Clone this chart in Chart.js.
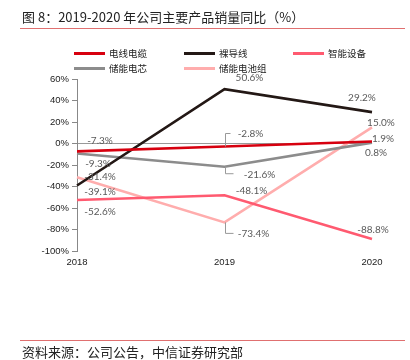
<!DOCTYPE html>
<html><head><meta charset="utf-8">
<script src="https://cdn.jsdelivr.net/npm/chart.js@4"></script>
<style>
html,body{margin:0;padding:0;background:#fff;width:410px;height:360px;overflow:hidden;}
#wrap{position:relative;width:410px;height:360px;}
canvas{position:absolute;left:0;top:0;}
.title{position:absolute;left:22px;top:7px;font:13px "Noto Sans CJK SC",sans-serif;color:#222;white-space:nowrap;}
.src{position:absolute;left:22px;top:342px;font:13px "Noto Sans CJK SC",sans-serif;color:#222;white-space:nowrap;}
.rule{position:absolute;left:20px;width:385px;height:1px;background:#e07070;}
.lg{position:absolute;font:9.5px "Noto Sans CJK SC",sans-serif;color:#222;white-space:nowrap;display:flex;align-items:center;}
.lg i{display:inline-block;width:31px;height:3px;margin-right:4px;}
</style></head>
<body><div id="wrap">
<canvas id="c" width="410" height="360"></canvas>
<div class="title">图 8：2019-2020 年公司主要产品销量同比（%）</div>
<div class="rule" style="top:28px"></div>
<div class="rule" style="top:340px"></div>
<div class="src">资料来源：公司公告，中信证券研究部</div>
<div id="legend"></div>
</div>
<script>
const categories = ['2018','2019','2020'];
const seriesNames = ['电线电缆','裸导线','智能设备','储能电芯','储能电池组'];
const cable   = [-7.3, -2.8, 1.9];
const bareWire = [-39.1, 50.6, 29.2];
const smartDevice = [-52.6, -48.1, -88.8];
const cell    = [-9.3, -21.6, 0.8];
const pack    = [-31.4, -73.4, 15.0];
const yTicks = [60, 40, 20, 0, -20, -40, -60, -80, -100];

const colors = ['#d7000f','#231815','#ff5a70','#8c8c8c','#ffadad'];
const seriesData = [cable, bareWire, smartDevice, cell, pack];
// label offsets [dx,dy] and leader flags (style only)
const labelOffsets = [
  [[23,-11],[26,-13],[11,-3]],
  [[23,6],[25,-11],[-10,-14]],
  [[23,12],[27,-4],[1,-9]],
  [[21,10],[35,8],[4,10]],
  [[23,0],[29,11],[9,-5]]
];
const leaders = {'0-1':[-13,5],'3-1':[7,8],'4-1':[11,8]};

// legend
const legPos = [[74,46],[184,46],[293,46],[74,61]];
legPos.push([184,61]);
const lg = document.getElementById('legend');
seriesNames.forEach((n,i)=>{
  const d=document.createElement('div');d.className='lg';
  d.style.left=legPos[i][0]+'px';d.style.top=legPos[i][1]+'px';
  d.innerHTML='<i style="background:'+colors[i]+'"></i>'+n;
  lg.appendChild(d);
});

const labelPlugin = {
  id:'vlabels',
  afterDatasetsDraw(chart){
    const ctx=chart.ctx;
    ctx.save();
    ctx.font='10px Lato, "Liberation Sans", sans-serif';
    ctx.fillStyle='#595959';
    ctx.textAlign='center';ctx.textBaseline='middle';
    chart.data.datasets.forEach((ds,di)=>{
      const meta=chart.getDatasetMeta(di);
      meta.data.forEach((pt,i)=>{
        const o=labelOffsets[di][i];
        const key=di+'-'+i;
        if(leaders[key]){
          const [ly,hx]=leaders[key];
          ctx.strokeStyle='#999';ctx.lineWidth=1;
          ctx.beginPath();
          ctx.moveTo(Math.round(pt.x)+0.5,pt.y);
          ctx.lineTo(Math.round(pt.x)+0.5,pt.y+ly);
          ctx.lineTo(Math.round(pt.x)+0.5+hx,pt.y+ly);
          ctx.stroke();
        }
        ctx.fillText(ds.data[i].toFixed(1)+'%',pt.x+o[0],pt.y+o[1]);
      });
    });
    ctx.restore();
  }
};

new Chart(document.getElementById('c'),{
  type:'line',
  data:{labels:categories,datasets:seriesData.map((d,i)=>({
    label:seriesNames[i],data:d,borderColor:colors[i],backgroundColor:colors[i],
    borderWidth:2.6,pointRadius:0,tension:0,fill:false
  }))},
  options:{
    responsive:false,animation:false,devicePixelRatio:1,
    layout:{padding:{left:0,right:38,top:79,bottom:89}},
    plugins:{legend:{display:false},tooltip:{enabled:false}},
    scales:{
      x:{offset:false,grid:{display:false,drawTicks:false},border:{display:false},
         ticks:{padding:6,color:'#222',font:{size:9.5,family:'"Liberation Sans", Arial, sans-serif'}},
         afterFit(s){s.height=20;}},
      y:{min:-100,max:60,
         afterBuildTicks(s){s.ticks=yTicks.map(v=>({value:v}));},
         grid:{color:c=>c.tick&&c.tick.value===0?'#999':'rgba(0,0,0,0)',tickColor:'#888',tickLength:5,lineWidth:1},
         border:{display:true,color:'#888',width:1},
         ticks:{padding:3,color:'#222',font:{size:9.5,family:'"Liberation Sans", Arial, sans-serif'},callback:v=>v+'%'},
         afterFit(s){s.width=77;}}
    }
  },
  plugins:[labelPlugin]
});
</script>
</body></html>
